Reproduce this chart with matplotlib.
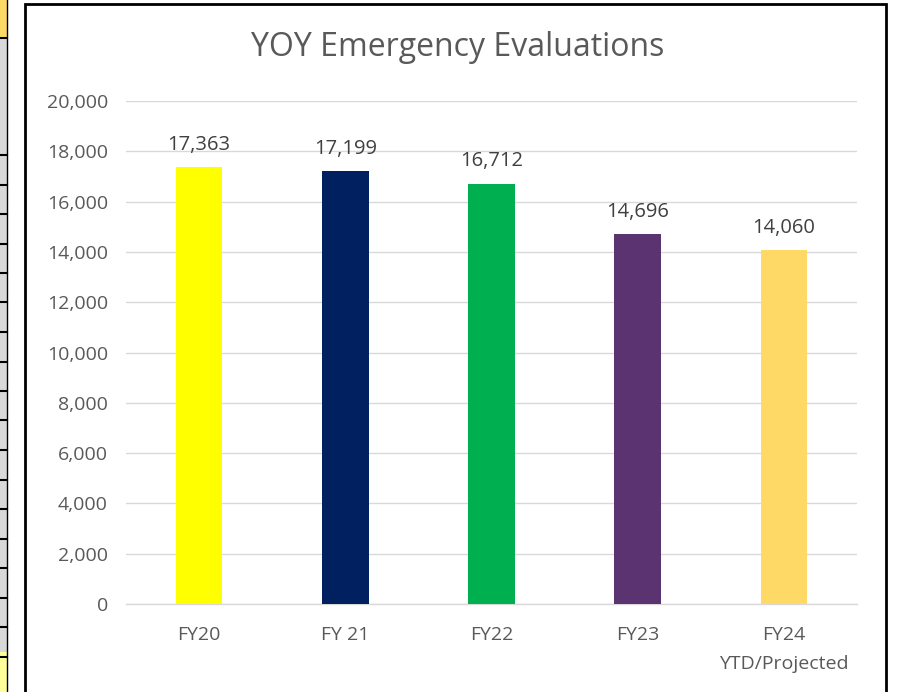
import numpy as np
import matplotlib.pyplot as plt
from matplotlib.patches import Rectangle

plt.rcParams['font.family'] = ['Open Sans', 'DejaVu Sans']

categories = ['FY20', 'FY 21', 'FY22', 'FY23', 'FY24\nYTD/Projected']
values = [17363, 17199, 16712, 14696, 14060]
bar_colors = ['#FFFF00', '#002060', '#00B050', '#5B3371', '#FFD966']
yticks = list(range(0, 20001, 2000))

W, H = 898, 692
fig = plt.figure(figsize=(W / 100, H / 100), dpi=100)

# bits of the spreadsheet showing at the left edge
fig.patches.append(Rectangle((0, 0), 7 / W, 1, transform=fig.transFigure,
                             facecolor='#D9D9D9', edgecolor='none', zorder=-2))
fig.patches.append(Rectangle((0, 1 - 38 / H), 7 / W, 38 / H, transform=fig.transFigure,
                             facecolor='#FFD966', edgecolor='none', zorder=-2))
fig.patches.append(Rectangle((0, 0), 7 / W, 40 / H, transform=fig.transFigure,
                             facecolor='#FFFF99', edgecolor='none', zorder=-2))
for yy in [38] + list(np.arange(155, 660, 29.5)):
    fig.add_artist(plt.Line2D([0, 7 / W], [1 - yy / H] * 2, transform=fig.transFigure,
                              color='black', lw=1.5, zorder=-1))
fig.add_artist(plt.Line2D([7 / W] * 2, [0, 1], transform=fig.transFigure,
                          color='black', lw=1, zorder=-1))

# chart border
fig.patches.append(Rectangle((25 / W, -0.01), 861 / W, 1 - 4 / H + 0.01,
                             transform=fig.transFigure, facecolor='white',
                             edgecolor='black', lw=2, zorder=-1))

ax = fig.add_axes([126 / W, 88 / H, 731 / W, 503 / H])
ax.set_facecolor('none')
x = np.arange(len(categories))
bars = ax.bar(x, values, width=0.32, color=bar_colors, zorder=3)

ax.set_xlim(-0.5, len(categories) - 0.5)
ax.set_ylim(0, 20000)
ax.set_yticks(yticks)
ax.set_yticklabels([f'{v:,}' for v in yticks], fontsize=14, color='#595959')
ax.set_xticks(x)
ax.set_xticklabels(categories, fontsize=14, color='#595959', linespacing=1.75)
ax.tick_params(axis='both', length=0)
ax.tick_params(axis='y', pad=13)
ax.tick_params(axis='x', pad=16)
ax.grid(axis='y', color='#D9D9D9', lw=1, zorder=0)
for s in ['top', 'right', 'left']:
    ax.spines[s].set_visible(False)
ax.spines['bottom'].set_color('#D9D9D9')
ax.spines['bottom'].set_linewidth(1)

for b, v in zip(bars, values):
    ax.annotate(f'{v:,}', (b.get_x() + b.get_width() / 2, v), xytext=(0, 9),
                textcoords='offset points', ha='center', va='bottom',
                fontsize=14.5, color='#404040')

fig.text(458 / W, 1 - 48 / H, 'YOY Emergency Evaluations', ha='center', va='center',
         fontsize=23, color='#595959')

fig.savefig('out.png', dpi=100)
